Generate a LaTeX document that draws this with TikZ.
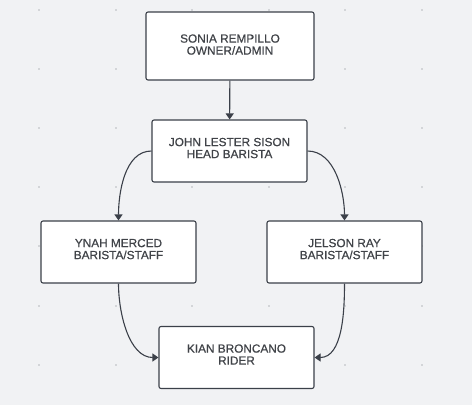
\documentclass[tikz,border=0pt]{standalone}
\usepackage{fontspec}
\setmainfont{Liberation Sans}[FakeBold = 0.6]
\usetikzlibrary{arrows.meta}

\definecolor{canvas}{HTML}{F1F2F4}
\definecolor{edge}{HTML}{3B4049}
\definecolor{ink}{HTML}{404348}
\definecolor{griddot}{HTML}{B5B8BD}

\tikzset{
	person/.style = {draw = edge, line width = 1.1pt, fill = white, rounded corners = 2pt,
		minimum width = 155pt, minimum height = 62pt, align = center, text = ink,
		font = \fontsize{11.8}{12}\selectfont, inner sep = 0pt, text depth = 6pt},
	link/.style = {draw = edge, line width = 1.1pt, -{Triangle[width = 8pt, length = 6pt]}}
}

\begin{document}
\begin{tikzpicture}[x = 1pt, y = -1pt]

	% Canvas
	
	\fill [white] (0, 0) rectangle (472, 410);
	\fill [canvas] (0, 0) rectangle (472, 405);
	\useasboundingbox (0, 0) rectangle (472, 410);
	
	% Grid dots
	
	\foreach \x in {39, 116, 192, 269, 345, 422}
	{
		\foreach \y in {10, 69, 128, 187, 246, 306, 365}
		{
			\fill [griddot] (\x, \y) circle (0.8);
		}
	}
	
	% Boxes
	
	\node [person, minimum width = 168pt, minimum height = 68pt, text depth = 3pt] (owner) at (230, 46) {SONIA REMPILLO\\OWNER/ADMIN};
	\node [person] (head) at (229.5, 151) {JOHN LESTER SISON\\HEAD BARISTA};
	\node [person] (ynah) at (118.5, 252) {YNAH MERCED\\BARISTA/STAFF};
	\node [person] (jelson) at (344.5, 252) {JELSON RAY\\BARISTA/STAFF};
	\node [person] (rider) at (236.5, 357.5) {KIAN BRONCANO\\RIDER};
	
	% Connectors
	
	\draw [link] (owner) -- (head);
	\draw [link] (head.west) to [out = 180, in = 90, looseness = 0.9] (ynah.north);
	\draw [link] (head.east) to [out = 0, in = 90, looseness = 0.9] (jelson.north);
	\draw [link] (ynah.south) to [out = 270, in = 180, looseness = 0.9] (rider.west);
	\draw [link] (jelson.south) to [out = 270, in = 0, looseness = 0.9] (rider.east);

\end{tikzpicture}
\end{document}
